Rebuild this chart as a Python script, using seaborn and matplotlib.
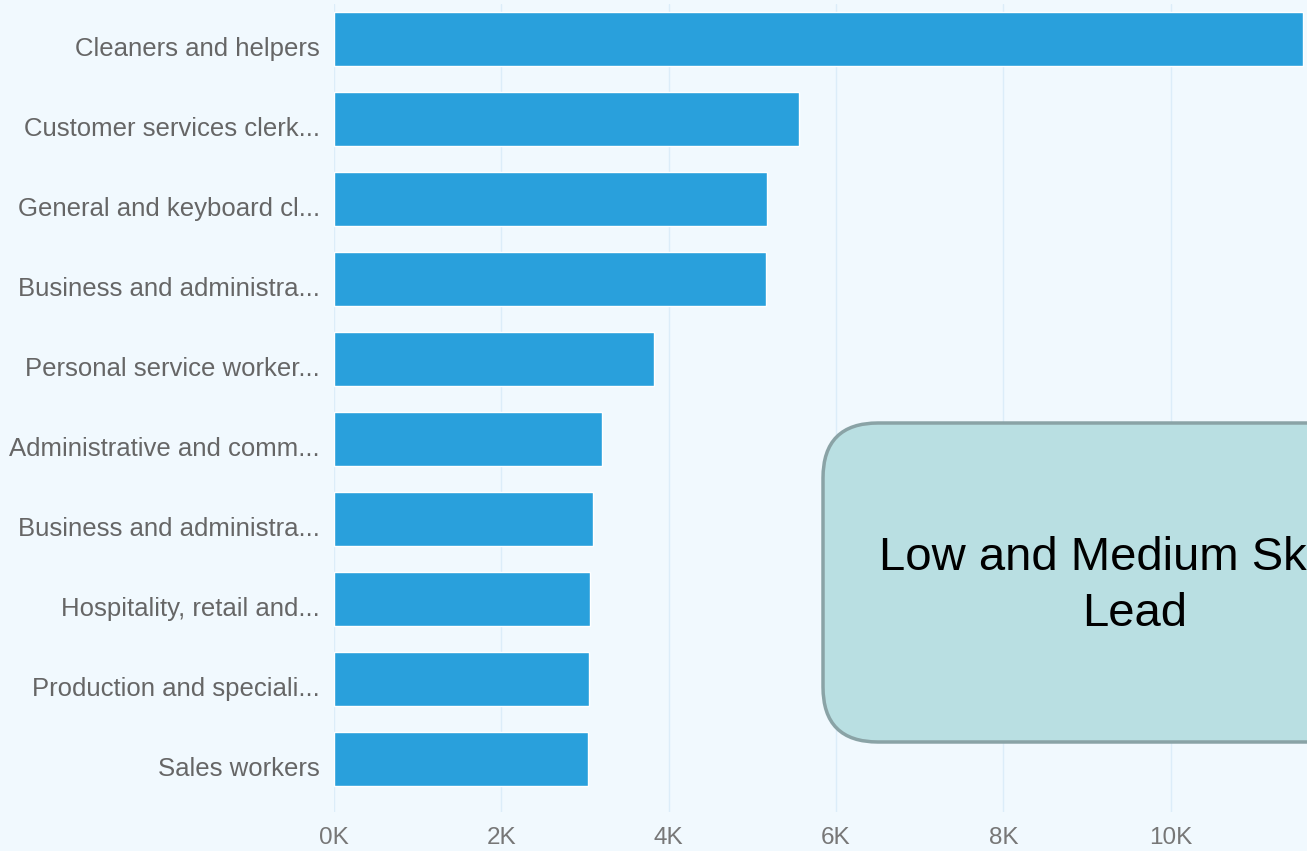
import matplotlib
matplotlib.use("Agg")
import matplotlib.pyplot as plt
from matplotlib.patches import FancyBboxPatch
from matplotlib.transforms import IdentityTransform, ScaledTranslation
from matplotlib.ticker import FuncFormatter
import pandas as pd
import seaborn as sns

occupations = ["Cleaners and helpers", "Customer services clerk...", "General and keyboard cl...",
               "Business and administra...", "Personal service worker...", "Administrative and comm...",
               "Business and administra...", "Hospitality, retail and...", "Production and speciali...",
               "Sales workers"]
counts = [11580, 5560, 5180, 5160, 3830, 3200, 3100, 3060, 3050, 3040]

# two rows share a truncated label, so plot on a rank key and relabel after
df = pd.DataFrame({"rank": [str(i) for i in range(len(occupations))], "count": counts})

sns.set_style("white")
plt.rcParams["font.family"] = ["Liberation Sans", "DejaVu Sans"]

bg = "#f1f9fe"
fig = plt.figure(figsize=(13.07, 8.51), dpi=100, facecolor=bg)
ax = fig.add_axes([334 / 1307, 39 / 851, 1 - 334 / 1307, (812 - 4) / 851])
ax.set_facecolor(bg)

sns.barplot(data=df, y="rank", x="count", orient="h", color="#29a0dc",
            saturation=1, width=0.675, ax=ax)

ax.set_yticks(range(len(occupations)), occupations)
ax.set_xlim(0, 11630)
ax.set_ylim(9.66, -0.44)
ax.set_xticks([0, 2000, 4000, 6000, 8000, 10000])
ax.xaxis.set_major_formatter(FuncFormatter(lambda v, p: f"{int(v / 1000)}K"))
ax.grid(axis="x", color="#dcedf9", lw=1)
ax.set_axisbelow(True)
for s in ax.spines.values():
    s.set_visible(False)
ax.set_xlabel("")
ax.set_ylabel("")
ax.tick_params(axis="y", length=0, pad=10, labelsize=18.5, labelcolor="#666666")
ax.tick_params(axis="x", length=0, pad=11, labelsize=17.5, labelcolor="#777777")

# labels sit a little below the bar centres in the original
shift = ScaledTranslation(0, -7 / 100, fig.dpi_scale_trans)
for lab in ax.get_yticklabels():
    lab.set_transform(lab.get_transform() + shift)

# callout box, partly off the right edge
box = FancyBboxPatch((823, 851 - 742), 624, 742 - 423,
                     boxstyle="round,pad=0,rounding_size=55",
                     fc="#b9dfe2", ec="#8aa3a6", lw=2.5,
                     transform=IdentityTransform(), zorder=5)
fig.patches.append(box)
fig.text(1135 / 1307, 1 - 586 / 851, "Low and Medium Skilled\nLead", ha="center", va="center",
         fontsize=34, color="black", linespacing=1.33, zorder=6)

fig.savefig("out.png", dpi=100, facecolor=bg)
